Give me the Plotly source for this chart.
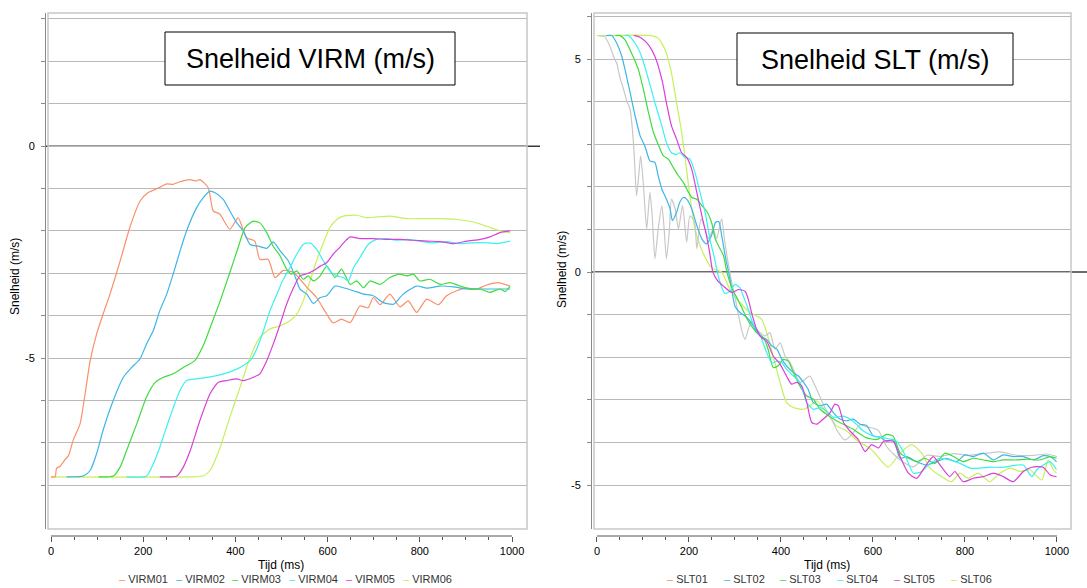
import plotly.graph_objects as go

# ---------------- data ----------------
VIRM01_t = [0, 9, 12, 20, 30, 38, 48, 63, 74, 85, 99, 113, 128, 150, 171, 193, 210, 222, 240, 251,
            265, 280, 301, 315, 323, 341, 352, 366, 388, 406, 424, 442, 453, 471, 486, 504, 526, 555, 576, 598,
            612, 630, 649, 670, 688, 699, 714, 735, 757, 775, 793, 815, 840, 858, 880, 902, 923, 949, 970, 996]
VIRM01_v = [-7.8, -7.8, -7.6, -7.55, -7.4, -7.3, -6.94, -6.55, -5.84, -5.06, -4.43, -3.96, -3.49, -2.71, -1.92, -1.3, -1.1, -1.04, -0.95, -0.89,
            -0.9, -0.84, -0.79, -0.82, -0.79, -0.98, -1.53, -1.6, -1.96, -1.69, -2.16, -2.24, -2.67, -2.67, -3.1, -2.93, -2.98, -3.33, -3.57, -3.96,
            -4.17, -4.08, -4.16, -3.77, -3.81, -3.57, -3.74, -3.49, -3.79, -3.65, -3.92, -3.61, -3.74, -3.53, -3.41, -3.35, -3.37, -3.26, -3.22, -3.3]

VIRM02_t = [34, 70, 85, 99, 113, 135, 157, 175, 193, 207, 222, 236, 251, 265, 280, 294, 316, 330, 345, 356,
            374, 388, 403, 417, 432, 450, 468, 482, 497, 515, 529, 540, 555, 569, 584, 598, 616, 634, 656, 678,
            699, 721, 743, 764, 793, 815, 844, 873, 902, 931, 960, 996]
VIRM02_v = [-7.8, -7.78, -7.65, -7.25, -6.7, -6.0, -5.45, -5.22, -5.02, -4.67, -4.35, -3.88, -3.49, -3.02, -2.47, -2.0, -1.45, -1.22, -1.06, -1.1,
            -1.26, -1.53, -1.81, -2.0, -2.32, -2.36, -2.41, -2.26, -2.47, -2.71, -3.06, -3.37, -3.49, -3.71, -3.57, -3.53, -3.3, -3.34, -3.41, -3.49,
            -3.53, -3.69, -3.73, -3.49, -3.3, -3.35, -3.3, -3.32, -3.37, -3.37, -3.37, -3.37]

VIRM03_t = [103, 135, 150, 164, 186, 207, 226, 244, 265, 287, 312, 330, 348, 367, 388, 406, 421, 439, 453, 468,
            482, 497, 511, 522, 533, 547, 558, 569, 584, 598, 616, 630, 649, 663, 678, 692, 714, 735, 757, 772,
            786, 800, 822, 844, 866, 887, 909, 931, 952, 974, 985, 996]
VIRM03_v = [-7.8, -7.78, -7.57, -7.18, -6.55, -5.92, -5.57, -5.45, -5.37, -5.22, -5.06, -4.71, -4.2, -3.65, -2.98, -2.39, -1.92, -1.77, -1.81, -2.04,
            -2.36, -2.59, -2.9, -3.02, -2.94, -3.14, -3.06, -3.18, -3.06, -2.83, -3.1, -2.9, -3.26, -3.18, -3.34, -3.18, -3.26, -3.1, -3.02, -3.06,
            -3.02, -3.18, -3.14, -3.26, -3.22, -3.3, -3.37, -3.37, -3.45, -3.37, -3.43, -3.3]

VIRM04_t = [164, 207, 222, 236, 258, 280, 294, 316, 345, 374, 403, 432, 446, 461, 475, 490, 504, 518, 533, 547,
            562, 576, 591, 605, 620, 634, 645, 656, 670, 688, 706, 728, 750, 772, 800, 829, 858, 887, 916, 945,
            967, 996]
VIRM04_v = [-7.8, -7.78, -7.49, -7.1, -6.39, -5.76, -5.53, -5.49, -5.44, -5.37, -5.26, -5.06, -4.79, -4.35, -3.88, -3.49, -3.14, -2.87, -2.55, -2.32,
            -2.28, -2.43, -2.71, -2.94, -3.06, -3.1, -3.18, -2.87, -2.63, -2.32, -2.2, -2.18, -2.22, -2.2, -2.24, -2.28, -2.25, -2.3, -2.28, -2.28,
            -2.3, -2.24]

VIRM05_t = [236, 273, 287, 302, 323, 345, 363, 381, 403, 417, 439, 453, 468, 482, 497, 511, 526, 540, 555, 569,
            584, 598, 612, 627, 638, 649, 670, 699, 728, 757, 786, 815, 844, 873, 902, 931, 952, 974, 996]
VIRM05_v = [-7.8, -7.78, -7.57, -7.18, -6.47, -5.84, -5.57, -5.53, -5.49, -5.53, -5.45, -5.37, -5.06, -4.67, -4.2, -3.73, -3.34, -3.06, -3.01, -2.94,
            -2.83, -2.75, -2.55, -2.38, -2.24, -2.14, -2.18, -2.18, -2.2, -2.2, -2.22, -2.24, -2.25, -2.3, -2.24, -2.2, -2.14, -2.04, -2.0]

VIRM06_t = [0, 300, 330, 345, 367, 388, 410, 432, 453, 475, 497, 518, 533, 547, 562, 576, 591, 605, 620, 634,
            663, 685, 706, 735, 772, 808, 844, 880, 916, 945, 974, 996]
VIRM06_v = [-7.8, -7.8, -7.78, -7.65, -7.1, -6.39, -5.69, -4.98, -4.51, -4.31, -4.24, -4.12, -3.96, -3.65, -3.18, -2.71, -2.28, -1.92, -1.73, -1.65,
            -1.63, -1.69, -1.67, -1.65, -1.71, -1.71, -1.71, -1.73, -1.79, -1.89, -2.0, -2.04]

SLT01_t = [5, 17, 28, 36, 43, 50, 57, 65, 72, 77, 81, 86, 90, 95, 101, 108, 115, 120, 126, 133,
           141, 146, 151, 157, 162, 170, 177, 186, 195, 202, 212, 217, 226, 235, 242, 253, 260, 271, 278, 286,
           293, 304, 315, 322, 329, 336, 344, 354, 365, 376, 387, 398, 409, 420, 430, 441, 452, 463, 474, 485,
           497, 510, 521, 539, 555, 572, 586, 611, 630, 659, 688, 717, 746, 775, 804, 840, 876, 913, 949, 978, 1000]
SLT01_v = [5.55, 5.52, 5.3, 5.06, 4.9, 4.56, 4.32, 4.01, 3.82, 3.35, 2.73, 1.79, 2.18, 2.73, 2.03, 1.01, 1.87, 1.32, 0.31, 1.01,
           1.56, 1.01, 0.31, 0.93, 1.71, 1.48, 1.01, 1.56, 0.70, 1.32, 1.17, 0.55, 1.25, 1.01, 0.78, 1.01, 0.78, 1.25, 0.70, 0.15,
           -0.25, -0.8, -1.38, -1.58, -1.34, -1.15, -1.3, -1.42, -1.5, -1.42, -1.81, -1.66, -1.97, -2.13, -2.36, -2.59, -2.52, -2.44, -2.67, -2.93,
           -3.22, -3.45, -3.7, -3.94, -3.8, -3.59, -3.63, -3.71, -4.1, -4.41, -4.57, -4.3, -4.33, -4.26, -4.3, -4.26, -4.22, -4.3, -4.3, -4.27, -4.33]

SLT02_t = [20, 32, 43, 54, 61, 72, 83, 94, 104, 115, 126, 133, 141, 151, 159, 164, 173, 180, 188, 195,
           206, 217, 228, 238, 249, 258, 265, 271, 280, 289, 300, 311, 322, 333, 344, 354, 369, 380, 391, 402,
           412, 427, 438, 449, 459, 470, 485, 499, 514, 528, 543, 557, 572, 586, 601, 615, 630, 644, 659, 673,
           695, 717, 738, 760, 782, 800, 818, 840, 862, 883, 905, 927, 949, 970, 985, 999]
SLT02_v = [5.55, 5.55, 5.37, 5.06, 4.75, 4.21, 3.66, 3.19, 2.96, 2.61, 2.57, 2.26, 1.95, 1.71, 1.48, 1.21, 1.4, 1.64, 1.75, 1.71,
           1.48, 1.09, 0.78, 0.66, 0.86, 1.17, 1.18, 0.86, 0.31, -0.15, -0.8, -0.95, -1.03, -1.15, -1.34, -1.5, -1.58, -1.73, -1.81, -2.05,
           -2.2, -2.36, -2.44, -2.59, -2.75, -3.06, -3.14, -3.1, -3.3, -3.45, -3.49, -3.45, -3.57, -3.6, -3.85, -3.87, -3.97, -3.93, -4.37, -4.33,
           -4.45, -4.53, -4.45, -4.37, -4.45, -4.29, -4.33, -4.25, -4.41, -4.29, -4.33, -4.33, -4.41, -4.31, -4.33, -4.45]

SLT03_t = [40, 50, 61, 75, 90, 101, 112, 123, 133, 144, 155, 166, 177, 188, 199, 206, 217, 228, 238, 249,
           257, 264, 275, 282, 293, 304, 315, 325, 336, 347, 362, 372, 383, 394, 405, 416, 427, 441, 456, 470,
           485, 499, 514, 528, 543, 557, 572, 586, 608, 630, 644, 659, 677, 695, 713, 735, 757, 775, 796, 818,
           840, 862, 883, 912, 934, 963, 985, 999]
SLT03_v = [5.55, 5.55, 5.45, 5.14, 4.75, 4.28, 3.74, 3.27, 3.0, 2.73, 2.65, 2.45, 2.26, 2.1, 1.87, 1.75, 1.71, 1.56, 1.44, 1.17,
           0.78, 0.62, 0.39, 0.02, -0.37, -0.6, -0.84, -1.07, -1.27, -1.42, -1.54, -1.81, -2.24, -2.2, -2.05, -2.09, -2.36, -2.67, -2.91, -2.98,
           -3.22, -3.34, -3.45, -3.53, -3.61, -3.69, -3.8, -3.89, -3.93, -3.81, -3.85, -4.25, -4.37, -4.45, -4.37, -4.49, -4.25, -4.33, -4.45, -4.37,
           -4.41, -4.45, -4.41, -4.41, -4.39, -4.41, -4.33, -4.37]

SLT04_t = [60, 68, 83, 97, 112, 126, 141, 151, 162, 173, 180, 191, 202, 213, 224, 235, 246, 256, 265, 278,
           289, 300, 311, 318, 329, 340, 354, 369, 380, 391, 402, 412, 427, 441, 456, 470, 485, 499, 514, 536,
           550, 564, 579, 601, 623, 651, 666, 688, 706, 724, 746, 767, 789, 811, 833, 854, 883, 912, 927, 945,
           956, 970, 985, 999]
SLT04_v = [5.55, 5.55, 5.37, 5.06, 4.52, 3.97, 3.43, 3.04, 2.8, 2.76, 2.8, 2.69, 2.65, 2.34, 1.87, 1.4, 0.75, 0.3, -0.15, -0.5,
           -0.45, -0.29, -0.37, -0.56, -0.88, -1.23, -1.46, -1.89, -2.13, -2.09, -2.13, -2.28, -2.44, -2.59, -3.06, -3.22, -3.18, -3.26, -3.41, -3.38,
           -3.45, -3.57, -3.73, -3.85, -3.89, -3.97, -4.21, -4.72, -4.68, -4.49, -4.37, -4.41, -4.49, -4.6, -4.6, -4.58, -4.58, -4.53, -4.53, -4.8,
           -4.64, -4.53, -4.45, -4.64]

SLT05_t = [80, 83, 97, 112, 126, 141, 151, 162, 173, 184, 195, 206, 217, 228, 238, 245, 252, 262, 275, 293,
           307, 322, 329, 336, 347, 358, 369, 383, 398, 412, 423, 434, 445, 456, 467, 478, 492, 507, 517, 525,
           536, 550, 568, 583, 597, 612, 623, 644, 659, 677, 695, 713, 731, 746, 767, 778, 796, 818, 840, 862,
           883, 905, 927, 945, 970, 985, 999]
SLT05_v = [5.55, 5.55, 5.49, 5.33, 5.06, 4.52, 3.97, 3.43, 3.12, 2.8, 2.69, 2.41, 1.87, 1.32, 0.86, 0.45, 0.0, -0.2, -0.33, -0.48,
           -0.41, -0.45, -0.64, -0.95, -1.34, -1.54, -1.62, -1.97, -2.16, -2.44, -2.63, -2.59, -2.67, -3.06, -3.53, -3.57, -3.45, -3.3, -3.1, -3.14,
           -3.53, -3.73, -3.93, -4.21, -4.05, -4.13, -3.97, -3.97, -4.33, -4.72, -4.84, -4.57, -4.33, -4.53, -4.8, -4.68, -4.92, -4.84, -4.8, -4.72,
           -4.8, -4.92, -4.68, -4.58, -4.58, -4.76, -4.8]

SLT06_t = [0, 119, 133, 148, 162, 173, 183, 191, 199, 206, 213, 224, 235, 246, 256, 271, 289, 311, 333, 347,
           358, 369, 383, 398, 412, 427, 449, 463, 478, 499, 521, 543, 565, 580, 595, 608, 633, 659, 684, 706,
           724, 749, 771, 789, 807, 829, 854, 876, 898, 920, 941, 967, 981, 992, 999]
SLT06_v = [5.55, 5.55, 5.49, 5.22, 4.67, 3.97, 3.35, 2.73, 2.03, 1.48, 1.01, 0.62, 0.35, 0.14, 0.06, 0.0, -0.41, -0.72, -0.95, -1.03,
           -1.11, -1.42, -1.97, -2.59, -3.06, -3.18, -3.22, -3.14, -3.02, -3.3, -3.61, -3.73, -3.95, -4.05, -4.15, -4.3, -4.58, -4.25, -4.05, -4.25,
           -4.6, -4.8, -4.92, -4.72, -4.84, -4.72, -4.92, -4.72, -4.6, -4.68, -4.64, -4.88, -4.41, -4.64, -4.72]

LEFT_NAMES = ["VIRM01", "VIRM02", "VIRM03", "VIRM04", "VIRM05", "VIRM06"]
RIGHT_NAMES = ["SLT01", "SLT02", "SLT03", "SLT04", "SLT05", "SLT06"]
COLORS = ["#FA9068", "#3CB6E6", "#3EDC3E", "#3CF0F0", "#D840D8", "#C6F05A"]
SLT01_LINE_COLOR = "#C8C8C8"

X_TICKS = [0, 200, 400, 600, 800, 1000]
LEFT_Y_TICKS = [0, -5]
RIGHT_Y_TICKS = [5, 0, -5]
LEFT_Y_GRID = [3, 2, 1, 0, -1, -2, -3, -4, -5, -6, -7, -8]
RIGHT_Y_GRID = [6, 5, 4, 3, 2, 1, 0, -1, -2, -3, -4, -5]

LEFT_TITLE = "Snelheid VIRM (m/s)"
RIGHT_TITLE = "Snelheid SLT (m/s)"
Y_TITLE = "Snelheid (m/s)"
X_TITLE = "Tijd (ms)"

left_series = [(VIRM01_t, VIRM01_v), (VIRM02_t, VIRM02_v), (VIRM03_t, VIRM03_v),
               (VIRM04_t, VIRM04_v), (VIRM05_t, VIRM05_v), (VIRM06_t, VIRM06_v)]
right_series = [(SLT01_t, SLT01_v), (SLT02_t, SLT02_v), (SLT03_t, SLT03_v),
                (SLT04_t, SLT04_v), (SLT05_t, SLT05_v), (SLT06_t, SLT06_v)]

# ---------------- layout geometry (pixels) ----------------
W, H = 1087, 588
FONT = "Liberation Sans, Arial, sans-serif"


def px(x):
    return x / W


def py(y):
    return 1 - y / H


LX = (48, 527)
RX = (594, 1071)
PY = (13, 529)
XRANGE_L = [-6.5, 1032.5]
XRANGE_R = [-6.5, 1030.5]
YRANGE_L = [-9.03, 3.14]
YRANGE_R = [-6.03, 6.08]
YDOM = [py(PY[1]), py(PY[0])]

fig = go.Figure()

order = [5, 0, 1, 2, 3, 4]
for i in order:
    t, v = left_series[i]
    fig.add_trace(go.Scatter(x=t, y=v, mode="lines", name=LEFT_NAMES[i],
                             line=dict(color=COLORS[i], width=1.2, shape="spline", smoothing=0.6),
                             xaxis="x", yaxis="y", showlegend=False, hoverinfo="skip"))
for i in order:
    t, v = right_series[i]
    col = SLT01_LINE_COLOR if i == 0 else COLORS[i]
    fig.add_trace(go.Scatter(x=t, y=v, mode="lines", name=RIGHT_NAMES[i],
                             line=dict(color=col, width=1.2, shape="spline", smoothing=0.6),
                             xaxis="x2", yaxis="y2", showlegend=False, hoverinfo="skip"))

GRID = "#B9B9B9"
AX = "#555555"


def xaxis_cfg(dom, rng):
    return dict(domain=[px(dom[0]), px(dom[1])], range=rng, anchor="free", position=py(536),
                showline=False, showgrid=False, zeroline=False,
                tickmode="array", tickvals=X_TICKS, ticktext=[str(v) for v in X_TICKS],
                ticks="outside", ticklen=5, tickcolor=AX, tickwidth=1,
                minor=dict(tickmode="linear", tick0=0, dtick=50, ticks="outside", ticklen=3,
                           tickcolor=AX, showgrid=False),
                tickfont=dict(family=FONT, size=11, color="#000"), fixedrange=True)


def yaxis_cfg(pos, rng, ticks, grid):
    return dict(domain=YDOM, range=rng, anchor="free", position=px(pos),
                showline=True, linecolor="#8A8A8A", linewidth=1, zeroline=False,
                showgrid=True, gridcolor=GRID, gridwidth=1,
                tickmode="array", tickvals=ticks, ticktext=[str(v) for v in ticks],
                ticks="outside", ticklen=4, tickcolor="#8A8A8A", ticklabelstandoff=4,
                minor=dict(tickmode="array", tickvals=grid, ticks="outside", ticklen=4,
                           tickcolor="#8A8A8A", showgrid=True, gridcolor=GRID, gridwidth=1),
                tickfont=dict(family=FONT, size=11, color="#000"), fixedrange=True)


def yfrac(val, rng):
    return YDOM[0] + (val - rng[0]) / (rng[1] - rng[0]) * (YDOM[1] - YDOM[0])


shapes = []
annotations = []
for (xa, ya, dom, xr, yr, xend) in [("x", "y", LX, XRANGE_L, YRANGE_L, 540),
                                    ("x2", "y2", RX, XRANGE_R, YRANGE_R, 1087)]:
    shapes.append(dict(type="rect", xref=f"{xa} domain", yref=f"{ya} domain", x0=0, x1=1, y0=0, y1=1,
                       line=dict(color="#C8C8C8", width=1.5), layer="above"))
    z = yfrac(0, yr)
    shapes.append(dict(type="line", xref="paper", yref="paper", x0=px(dom[0] - 3), x1=px(xend), y0=z, y1=z,
                       line=dict(color="#3A3A3A", width=1.5), layer="below"))
    shapes.append(dict(type="line", xref=xa, yref="paper", x0=X_TICKS[0], x1=X_TICKS[-1],
                       y0=py(536), y1=py(536), line=dict(color=AX, width=1)))

for (x0, x1, y0, y1, txt) in [(165, 455, 32, 85, LEFT_TITLE), (737, 1013, 33, 85, RIGHT_TITLE)]:
    shapes.append(dict(type="rect", xref="paper", yref="paper", x0=px(x0), x1=px(x1), y0=py(y1), y1=py(y0),
                       line=dict(color="#000", width=1), fillcolor="white", layer="above"))
    annotations.append(dict(text=txt, xref="paper", yref="paper", x=px((x0 + x1) / 2), y=py((y0 + y1) / 2 + 1),
                            xanchor="center", yanchor="middle", showarrow=False,
                            font=dict(family=FONT, size=27, color="#000")))

for (xc, yc) in [(15, 277), (562, 270)]:
    annotations.append(dict(text=Y_TITLE, xref="paper", yref="paper", x=px(xc), y=py(yc), textangle=-90,
                            xanchor="center", yanchor="middle", showarrow=False,
                            font=dict(family=FONT, size=12, color="#000")))
for xc in [281, 827]:
    annotations.append(dict(text=X_TITLE, xref="paper", yref="paper", x=px(xc), y=py(565),
                            xanchor="center", yanchor="middle", showarrow=False,
                            font=dict(family=FONT, size=12, color="#000")))

for names, x_start in [(LEFT_NAMES, 117), (RIGHT_NAMES, 665)]:
    for k, nm in enumerate(names):
        annotations.append(dict(text=f"<span style='color:{COLORS[k]}'>–</span> {nm}",
                                xref="paper", yref="paper", x=px(x_start + k * 56.7), y=py(579),
                                xanchor="left", yanchor="middle", showarrow=False,
                                font=dict(family=FONT, size=11, color="#333")))

fig.update_layout(
    width=W, height=H, margin=dict(l=0, r=0, t=0, b=0),
    paper_bgcolor="white", plot_bgcolor="white",
    xaxis=xaxis_cfg(LX, XRANGE_L), yaxis=yaxis_cfg(45, YRANGE_L, LEFT_Y_TICKS, LEFT_Y_GRID),
    xaxis2=xaxis_cfg(RX, XRANGE_R), yaxis2=yaxis_cfg(591, YRANGE_R, RIGHT_Y_TICKS, RIGHT_Y_GRID),
    shapes=shapes, annotations=annotations, showlegend=False,
    font=dict(family=FONT),
)

fig.write_html("out.html", config={"displayModeBar": False},
               post_script="document.body.style.margin='0';document.body.style.overflow='hidden';")
